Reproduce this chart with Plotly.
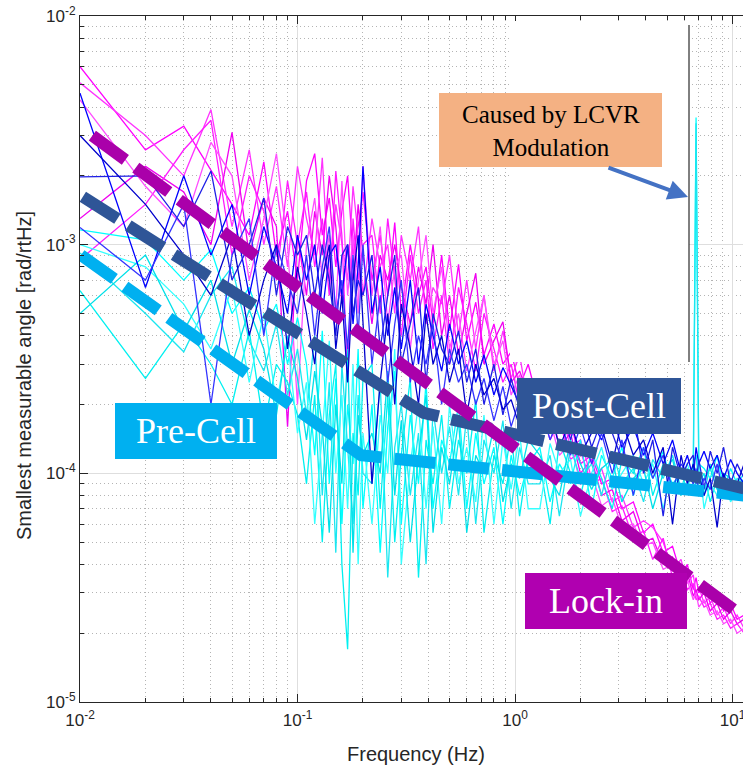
import plotly.graph_objects as go

# Frequency bins (Hz) shared by every measured spectrum
FREQ_HZ = [
    0.01, 0.02, 0.03, 0.04, 0.05, 0.06, 0.07, 0.08, 0.09, 0.10,
    0.11, 0.12, 0.13, 0.14, 0.15, 0.16, 0.17, 0.18, 0.19, 0.20,
    0.22, 0.24, 0.26, 0.28, 0.30, 0.33, 0.36, 0.39, 0.42, 0.46,
    0.50, 0.55, 0.60, 0.66, 0.72, 0.80, 0.88, 0.96, 1.05, 1.15,
    1.3, 1.45, 1.6, 1.8, 2.0, 2.25, 2.5, 2.8, 3.1, 3.5,
    3.9, 4.3, 4.8, 5.3, 5.8, 6.2, 6.6, 6.8, 7.0, 7.4,
    7.9, 8.5, 9.1, 9.8, 10.5, 11.3,
]

# Lock-in runs, smallest measurable angle in urad/rtHz
LOCKIN_RUNS = [
    [6000, 2600, 3300, 2100, 1500, 1100, 2300, 900, 1400, 700,
     1900, 2500, 1100, 1600, 800, 1400, 2000, 900, 1200, 1700,
     700, 1100, 600, 1250, 500, 1000, 600, 800, 450, 900,
     420, 820, 380, 560, 330, 450, 300, 340, 240, 300,
     190, 220, 150, 170, 110, 120, 90, 95, 70, 75,
     55, 60, 45, 48, 36, 40, 31, 35, 30, 33,
     27, 30, 25, 27, 23, 24],
    [5100, 3000, 2000, 3900, 1200, 2600, 1000, 1800, 800, 2200,
     1300, 900, 2400, 700, 1500, 1000, 700, 1800, 1100, 600,
     1300, 800, 1000, 500, 1100, 700, 1200, 450, 650, 550,
     900, 400, 700, 350, 600, 280, 420, 260, 330, 200,
     260, 160, 200, 130, 140, 95, 105, 75, 80, 58,
     62, 58, 50, 38, 42, 33, 36, 30, 32, 27,
     29, 24, 26, 22, 24, 21],
    [1300, 2200, 1700, 1000, 3100, 900, 1600, 1200, 160, 1100,
     600, 1400, 900, 2000, 1200, 550, 1000, 700, 1500, 900,
     450, 900, 700, 1000, 650, 450, 800, 550, 1000, 400,
     600, 330, 500, 750, 300, 380, 460, 250, 280, 220,
     170, 200, 130, 150, 100, 115, 80, 85, 62, 68,
     50, 52, 40, 43, 34, 37, 29, 31, 28, 30,
     25, 27, 23, 25, 22, 23],
    [860, 1500, 2600, 3500, 900, 2000, 1400, 700, 1900, 1000,
     1700, 800, 1300, 600, 2100, 1100, 250, 1300, 700, 1000,
     1100, 500, 1300, 700, 400, 900, 500, 700, 350, 600,
     300, 650, 450, 280, 500, 350, 250, 300, 200, 260,
     200, 140, 170, 115, 125, 90, 95, 68, 72, 52,
     56, 42, 52, 35, 38, 31, 33, 28, 29, 26,
     27, 23, 24, 21, 22, 20],
    [4300, 1800, 1200, 2800, 2000, 700, 1300, 2500, 1000, 200,
     1000, 1600, 700, 1100, 500, 1900, 600, 1100, 500, 2200,
     600, 1200, 450, 800, 900, 350, 700, 1100, 500, 800,
     350, 500, 280, 420, 600, 300, 380, 220, 270, 180,
     230, 170, 120, 135, 90, 100, 72, 78, 58, 60,
     48, 50, 38, 40, 31, 34, 28, 30, 26, 28,
     24, 25, 22, 23, 20, 21],
]

# Post-cell runs (urad/rtHz)
POSTCELL_RUNS = [
    [4600, 650, 2000, 900, 1500, 600, 1200, 800, 500, 1100,
     700, 1000, 500, 900, 1000, 600, 1000, 450, 800, 2200,
     500, 800, 400, 650, 350, 700, 300, 550, 400, 280,
     450, 300, 380, 250, 330, 220, 290, 240, 200, 260,
     180, 220, 160, 190, 150, 170, 140, 180, 130, 160,
     120, 150, 110, 140, 100, 120, 95, 130, 110, 125,
     105, 120, 95, 115, 100, 90],
    [1980, 2000, 1200, 2100, 700, 1000, 1600, 600, 1200, 900,
     1100, 600, 1000, 700, 400, 900, 1000, 500, 700, 600,
     900, 350, 600, 900, 300, 450, 650, 250, 500, 350,
     300, 420, 250, 350, 200, 300, 180, 260, 190, 230,
     250, 160, 210, 140, 200, 130, 170, 150, 115, 190,
     100, 140, 65, 130, 95, 110, 120, 90, 115, 85,
     125, 100, 130, 90, 110, 95],
    [1190, 700, 1500, 200, 900, 1300, 400, 1000, 700, 500,
     900, 400, 800, 1200, 500, 700, 350, 900, 400, 1000,
     300, 600, 250, 450, 700, 250, 400, 300, 450, 200,
     350, 250, 300, 200, 260, 170, 240, 160, 210, 150,
     200, 140, 180, 120, 160, 110, 150, 100, 140, 80,
     130, 95, 120, 85, 110, 100, 90, 105, 80, 95,
     85, 110, 80, 95, 85, 80],
    [3000, 1500, 900, 600, 1100, 400, 700, 1000, 350, 800,
     500, 300, 700, 1000, 350, 600, 250, 700, 1100, 450,
     90, 250, 500, 200, 550, 350, 200, 500, 300, 400,
     250, 350, 180, 300, 220, 260, 190, 210, 160, 180,
     150, 190, 130, 170, 120, 150, 160, 110, 170, 120,
     140, 100, 130, 60, 120, 90, 110, 95, 100, 80,
     95, 58, 100, 80, 90, 110],
]

# Pre-cell runs (urad/rtHz); the first two show the LCVR line near 6.8 Hz
PRECELL_RUNS = [
    [1160, 1050, 700, 950, 500, 650, 420, 550, 300, 480,
     300, 120, 420, 90, 260, 60, 200, 110, 350, 70,
     200, 45, 160, 280, 60, 180, 90, 250, 70, 140,
     110, 200, 70, 150, 90, 130, 60, 120, 80, 110,
     130, 75, 110, 90, 140, 70, 120, 95, 130, 80,
     115, 95, 125, 85, 105, 95, 100, 3600, 110, 105,
     95, 120, 85, 105, 90, 100],
    [920, 500, 340, 600, 800, 380, 280, 450, 220, 350,
     180, 400, 80, 250, 45, 300, 130, 60, 220, 100,
     90, 250, 35, 130, 200, 80, 150, 40, 190, 100,
     160, 80, 180, 60, 140, 100, 170, 70, 130, 90,
     90, 120, 65, 130, 95, 110, 80, 125, 90, 105,
     75, 115, 95, 120, 85, 105, 95, 3400, 100, 80,
     110, 90, 100, 85, 95, 90],
    [630, 260, 450, 300, 200, 420, 160, 300, 250, 180,
     90, 220, 50, 180, 300, 40, 17, 150, 80, 260,
     300, 70, 220, 50, 120, 260, 35, 140, 90, 180,
     70, 140, 100, 210, 55, 120, 90, 150, 65, 120,
     110, 60, 140, 100, 80, 125, 95, 70, 115, 100,
     130, 80, 110, 90, 100, 85, 110, 120, 90, 100,
     75, 95, 80, 90, 85, 95],
    [1000, 800, 550, 350, 650, 250, 500, 200, 380, 150,
     250, 60, 150, 380, 100, 220, 70, 300, 40, 150,
     60, 180, 100, 350, 40, 110, 200, 70, 160, 60,
     200, 90, 130, 75, 180, 60, 140, 85, 150, 70,
     70, 135, 100, 115, 65, 100, 130, 85, 100, 120,
     90, 110, 70, 105, 95, 110, 90, 100, 115, 70,
     90, 80, 95, 75, 85, 80],
    [500, 900, 420, 700, 300, 520, 350, 180, 400, 260,
     140, 280, 160, 55, 200, 90, 350, 45, 180, 120,
     150, 100, 280, 80, 170, 50, 120, 220, 55, 130,
     90, 170, 55, 120, 100, 160, 75, 110, 95, 140,
     120, 95, 80, 140, 110, 85, 105, 115, 75, 95,
     105, 70, 100, 115, 80, 90, 80, 95, 85, 95,
     105, 85, 100, 95, 80, 85],
]

# Fitted noise floors (rad/rtHz)
LOCKIN_FIT_F = [0.0114, 11.3]
LOCKIN_FIT_Y = [3.0e-3, 2.35e-5]
POSTCELL_FIT_F = [0.0103, 0.38, 11.3]
POSTCELL_FIT_Y = [1.62e-3, 1.84e-4, 8.6e-5]
PRECELL_FIT_F = [0.0101, 0.196, 11.3]
PRECELL_FIT_Y = [9.0e-4, 1.2e-4, 8.0e-5]

X_TICKS = [0.01, 0.1, 1, 10]
X_TICK_TEXT = ["10<sup>-2</sup>", "10<sup>-1</sup>", "10<sup>0</sup>", "10<sup>1</sup>"]
Y_TICKS = [1e-5, 1e-4, 1e-3, 1e-2]
Y_TICK_TEXT = ["10<sup>-5</sup>", "10<sup>-4</sup>", "10<sup>-3</sup>", "10<sup>-2</sup>"]

# minor ticks at 2..9 of every decade
X_MINOR = [m * d for d in (0.01, 0.1, 1, 10) for m in range(2, 10)]
Y_MINOR = [m * d for d in (1e-5, 1e-4, 1e-3) for m in range(2, 10)]

# ---- page geometry (pixels) ----
W, H = 743, 765
ML, MR, MT, MB = 80, 0, 16, 63
PW, PH = W - ML - MR, H - MT - MB


def px(x):
    return (x - ML) / PW


def py(y):
    return (H - MB - y) / PH


SANS = "Liberation Sans, Arial, sans-serif"
SERIF = "Liberation Serif, Times New Roman, serif"
AXC = "#262626"

fig = go.Figure()

magenta_shades = ["#FF00FF", "#FF33FF", "#F000F0", "#FF1AFF", "#FF4DFF"]
blue_shades = ["#0000FF", "#1F1FE6", "#3333FF", "#0000CC"]
cyan_shades = ["#00FFFF", "#1AE6F0", "#00F0F0", "#33FFFF", "#00E0E8"]


def add_runs(runs, shades):
    for run, col in zip(runs, shades):
        fig.add_trace(go.Scatter(
            x=FREQ_HZ, y=[v * 1e-6 for v in run], mode="lines",
            line=dict(color=col, width=1.3), hoverinfo="skip"))


add_runs(LOCKIN_RUNS, magenta_shades)
add_runs(PRECELL_RUNS, cyan_shades)
add_runs(POSTCELL_RUNS, blue_shades)

DASH = "41px,13px"
for fx, fy, col in [(PRECELL_FIT_F, PRECELL_FIT_Y, "#00B0F0"),
                    (POSTCELL_FIT_F, POSTCELL_FIT_Y, "#2F5597"),
                    (LOCKIN_FIT_F, LOCKIN_FIT_Y, "#AA00AA")]:
    fig.add_trace(go.Scatter(x=fx, y=fy, mode="lines",
                             line=dict(color=col, width=12, dash=DASH),
                             hoverinfo="skip"))

shapes = [
    # blank panel behind the callout
    dict(type="rect", xref="paper", yref="paper", x0=px(510), x1=px(689),
         y0=py(362), y1=py(21), fillcolor="white", line=dict(width=0), layer="above"),
    dict(type="line", xref="paper", yref="paper", x0=px(689), x1=px(689),
         y0=py(362), y1=py(25), line=dict(color="black", width=1), layer="above"),
    dict(type="rect", xref="paper", yref="paper", x0=px(439), x1=px(662),
         y0=py(167), y1=py(93), fillcolor="#F4B183", line=dict(width=0), layer="above"),
    dict(type="rect", xref="paper", yref="paper", x0=px(115), x1=px(277),
         y0=py(459), y1=py(403), fillcolor="#00B0F0", line=dict(width=0), layer="above"),
    dict(type="rect", xref="paper", yref="paper", x0=px(517), x1=px(681),
         y0=py(434), y1=py(378), fillcolor="#2F5597", line=dict(width=0), layer="above"),
    dict(type="rect", xref="paper", yref="paper", x0=px(525), x1=px(687),
         y0=py(629), y1=py(573), fillcolor="#B000B0", line=dict(width=0), layer="above"),
]

annotations = [
    dict(text="Caused by LCVR<br>Modulation", x=px(550.5), y=py(131), xref="paper", yref="paper",
         showarrow=False, font=dict(family=SERIF, size=25, color="black"),
         xanchor="center", yanchor="middle", align="center"),
    dict(text="Pre-Cell", x=px(196), y=py(431), xref="paper", yref="paper", showarrow=False,
         font=dict(family=SERIF, size=36, color="white"), xanchor="center", yanchor="middle"),
    dict(text="Post-Cell", x=px(599), y=py(406), xref="paper", yref="paper", showarrow=False,
         font=dict(family=SERIF, size=36, color="white"), xanchor="center", yanchor="middle"),
    dict(text="Lock-in", x=px(606), y=py(601), xref="paper", yref="paper", showarrow=False,
         font=dict(family=SERIF, size=36, color="white"), xanchor="center", yanchor="middle"),
    dict(text="", x=px(688), y=py(197), xref="paper", yref="paper", showarrow=True,
         ax=-81, ay=-30, arrowhead=2, arrowsize=1, arrowwidth=4, arrowcolor="#4472C4"),
    dict(text="Smallest measurable angle [rad/rtHz]", x=px(24), y=py(376), xref="paper",
         yref="paper", showarrow=False, textangle=-90, xanchor="center", yanchor="middle",
         font=dict(family=SANS, size=20, color=AXC)),
    dict(text="Frequency (Hz)", x=px(416), y=py(741), xref="paper", yref="paper",
         showarrow=False, xanchor="center", yanchor="top",
         font=dict(family=SANS, size=20, color=AXC)),
]


def axis(major_vals, major_text, minor_vals, rng, **kw):
    return dict(
        type="log", range=rng, tickmode="array", tickvals=major_vals, ticktext=major_text,
        ticks="inside", ticklen=8, tickwidth=1, tickcolor=AXC, automargin=False,
        showline=True, linecolor=AXC, linewidth=1, zeroline=False,
        showgrid=True, gridcolor="#dedede", gridwidth=1,
        tickfont=dict(family=SANS, size=17, color=AXC),
        minor=dict(tickmode="array", tickvals=minor_vals, ticks="inside", ticklen=4,
                   tickcolor=AXC, showgrid=True, gridcolor="#b4b4b4",
                   griddash="1px,3px", gridwidth=1),
        **kw,
    )


fig.update_layout(
    width=W, height=H, autosize=False,
    margin=dict(l=ML, r=MR, t=MT, b=MB, pad=0, autoexpand=False),
    paper_bgcolor="white", plot_bgcolor="white", showlegend=False,
    xaxis=axis(X_TICKS, X_TICK_TEXT, X_MINOR, [-2, 1.0483], mirror="ticks",
               ticklabeloverflow="allow", ticklabelstandoff=3),
    yaxis=axis(Y_TICKS, Y_TICK_TEXT, Y_MINOR, [-5, -2], mirror=False),
    shapes=shapes, annotations=annotations,
)

fig.write_html("out.html")
